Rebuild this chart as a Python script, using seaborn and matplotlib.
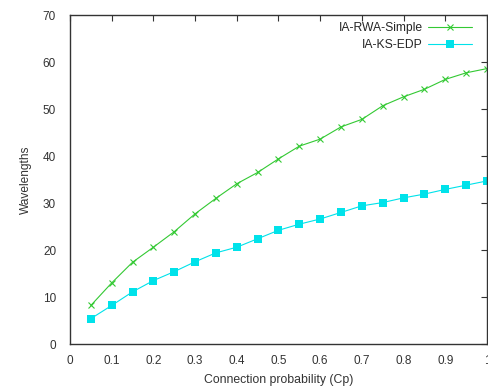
import pandas as pd
import numpy as np
import matplotlib
matplotlib.use("Agg")
import matplotlib.pyplot as plt
import seaborn as sns

# connection probability values
cp = [0.05, 0.10, 0.15, 0.20, 0.25, 0.30, 0.35, 0.40, 0.45, 0.50,
      0.55, 0.60, 0.65, 0.70, 0.75, 0.80, 0.85, 0.90, 0.95, 1.00]

# wavelengths used by each algorithm
rwa_simple = [8.2, 13.0, 17.4, 20.6, 23.9, 27.7, 31.0, 34.1, 36.5, 39.4,
              42.1, 43.6, 46.2, 47.8, 50.7, 52.6, 54.2, 56.3, 57.7, 58.6]
ks_edp = [5.4, 8.2, 11.1, 13.5, 15.4, 17.5, 19.4, 20.6, 22.4, 24.2,
          25.5, 26.6, 28.0, 29.4, 30.1, 31.1, 31.9, 32.9, 33.8, 34.7]

series_names = ["IA-RWA-Simple", "IA-KS-EDP"]

sns.set_style("white")
plt.rcParams["font.family"] = ["Liberation Sans", "DejaVu Sans"]

fig = plt.figure(figsize=(4.89, 3.9), dpi=100)
ax = fig.add_axes([0.1431, 0.1179, 0.8528, 0.8436])

green = "#33c933"
cyan = "#00e2ea"
sns.lineplot(x=cp, y=rwa_simple, color=green, marker="x", markersize=5,
             markeredgecolor=green, markeredgewidth=0.8, linewidth=0.8,
             label=series_names[0], ax=ax)
sns.lineplot(x=cp, y=ks_edp, color=cyan, marker="s", markersize=5.5,
             markeredgewidth=0, linewidth=0.8, label=series_names[1], ax=ax)

ax.set_xlim(0, 1)
ax.set_ylim(0, 70)
ax.set_xticks(np.arange(0, 1.01, 0.1))
ax.set_xticklabels(["0", "0.1", "0.2", "0.3", "0.4", "0.5", "0.6", "0.7", "0.8", "0.9", "1"])
ax.set_yticks(np.arange(0, 71, 10))
ax.tick_params(direction="in", length=4, width=0.8, top=True, right=True,
               labelsize=8.5, colors="#333333")
ax.tick_params(axis="y", pad=10)
ax.tick_params(axis="x", pad=8)
for s in ax.spines.values():
    s.set_color("#333333")
    s.set_linewidth(1.0)
ax.set_xlabel("Connection probability (Cp)", fontsize=8.8, color="#333333", labelpad=5)
ax.set_ylabel("Wavelengths", fontsize=8.6, color="#333333", labelpad=8)

ax.legend(loc="upper right", bbox_to_anchor=(1 - 15 / 417, 1 - 7 / 329),
          markerfirst=False, frameon=False, fontsize=8.7, borderaxespad=0,
          borderpad=0, handlelength=3.6, handletextpad=0.45, labelspacing=0.45)

fig.savefig("out.png", dpi=100)
